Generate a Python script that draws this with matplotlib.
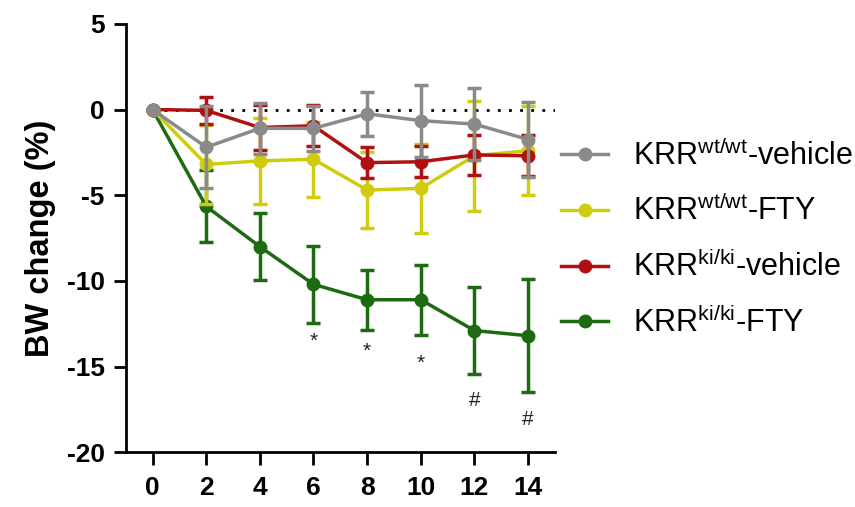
import matplotlib
matplotlib.use("Agg")
import matplotlib.pyplot as plt
from matplotlib.lines import Line2D

plt.rcParams['font.family'] = ['Liberation Sans', 'DejaVu Sans']
plt.rcParams['mathtext.fontset'] = 'custom'
plt.rcParams['mathtext.rm'] = 'Liberation Sans'
plt.rcParams['axes.unicode_minus'] = False

days = [0, 2, 4, 6, 8, 10, 12, 14]

wt_vehicle = [0, -2.2, -1.1, -1.1, -0.25, -0.65, -0.85, -1.75]
wt_vehicle_err = [0, 2.4, 1.5, 1.3, 1.3, 2.1, 2.1, 2.2]

wt_fty = [0, -3.2, -3.0, -2.9, -4.7, -4.6, -2.7, -2.4]
wt_fty_err = [0, 2.3, 2.5, 2.2, 2.2, 2.6, 3.2, 2.6]

ki_vehicle = [0, -0.05, -1.05, -0.95, -3.1, -3.05, -2.65, -2.7]
ki_vehicle_err = [0, 0.8, 1.3, 1.2, 0.9, 0.9, 1.15, 1.2]

ki_fty = [0, -5.65, -8.0, -10.2, -11.1, -11.1, -12.9, -13.2]
ki_fty_err = [0, 2.1, 1.95, 2.25, 1.75, 2.05, 2.55, 3.3]

sig_days = [6, 8, 10, 12, 14]
sig_marks = ['*', '*', '*', '#', '#']
sig_y = [-13.5, -14.1, -14.8, -17.0, -18.1]

labels = [r'KRR$^{\mathregular{wt/wt}}$-vehicle', r'KRR$^{\mathregular{wt/wt}}$-FTY',
          r'KRR$^{\mathregular{ki/ki}}$-vehicle', r'KRR$^{\mathregular{ki/ki}}$-FTY']
colors = ['#8a8a8a', '#cfcc10', '#b01010', '#1d6b10']

fig = plt.figure(figsize=(8.55, 5.07), dpi=100)
ax = fig.add_axes([0.147, 0.108, 0.502, 0.845])

ax.plot([0, 15], [0, 0], linestyle=(0, (1, 3)), color='black', lw=2, zorder=1)

data = [(wt_vehicle, wt_vehicle_err), (wt_fty, wt_fty_err), (ki_vehicle, ki_vehicle_err), (ki_fty, ki_fty_err)]
zorders = [5, 3, 4, 2]
for i, (vals, errs) in enumerate(data):
    ax.errorbar(days, vals, yerr=errs, color=colors[i], lw=2.5, marker='o', ms=9,
                capsize=5, capthick=2.5, elinewidth=2.5, zorder=zorders[i], label=labels[i])

for d, m, y in zip(sig_days, sig_marks, sig_y):
    ax.text(d, y, m, ha='center', va='center', fontsize=15, color='#222222')

ax.set_xlim(-1, 15)
ax.set_ylim(-20, 5)
ax.set_xticks(days)
ax.set_yticks([5, 0, -5, -10, -15, -20])
ax.spines['top'].set_visible(False)
ax.spines['right'].set_visible(False)
for s in ['left', 'bottom']:
    ax.spines[s].set_linewidth(2)
ax.tick_params(width=2, length=9, labelsize=19)
ax.tick_params(axis='x', pad=8)
ax.tick_params(axis='y', pad=6)
for lab in ax.get_xticklabels() + ax.get_yticklabels():
    lab.set_fontweight('bold')
ax.set_ylabel('BW change (%)', fontsize=23.5, fontweight='bold', labelpad=8)

leg_handles = [Line2D([0], [0], color=c, lw=2.5, marker='o', ms=9) for c in colors]
fig.legend(leg_handles, labels, loc='center left', bbox_to_anchor=(0.624, 0.528),
           frameon=False, fontsize=22, handlelength=1.55, handletextpad=0.8, labelspacing=0.78)

fig.savefig('out.png', dpi=100)
